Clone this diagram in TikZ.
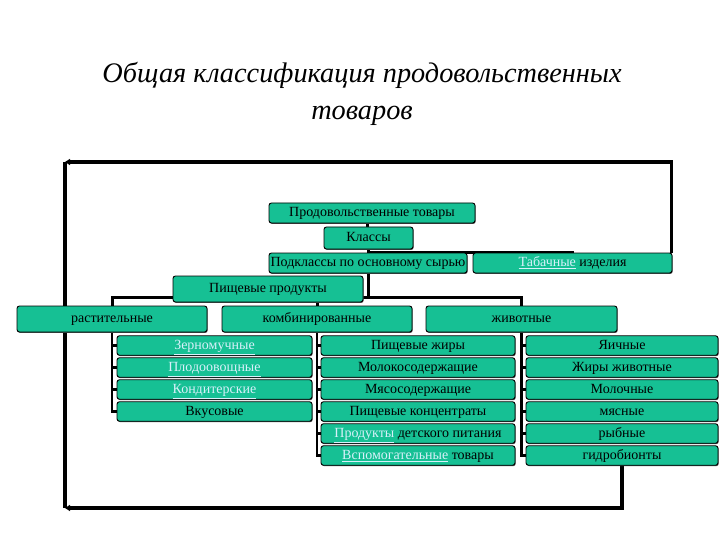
\documentclass[tikz,border=0pt]{standalone}
\usepackage{fontspec}
\setmainfont{Liberation Serif}
\usetikzlibrary{arrows.meta,shadows}
\definecolor{boxc}{RGB}{22,192,148}
\definecolor{linkc}{RGB}{215,240,250}
\newcommand\lnk[1]{\textcolor{linkc}{\underline{#1}}}
\pgfdeclarelayer{bg}
\pgfsetlayers{bg,main}
\begin{document}
\begin{tikzpicture}[x=1pt,y=-1pt,
  bx/.style={draw=black, line width=0.9pt, fill=boxc, rounded corners=2.5pt, inner sep=0pt,
    font=\fontsize{14}{16}\selectfont, text height=10pt, text depth=2.2pt,
    drop shadow={shadow xshift=0.7pt, shadow yshift=-0.9pt, fill=black!70, opacity=1}},
  conn/.style={line width=3pt},
  colline/.style={line width=2.4pt},
  loopline/.style={line width=3.2pt},
  tip/.style={-{Triangle[length=5pt,width=6pt]}},
  ttl/.style={font=\fontsize{28.3}{34}\selectfont\itshape, anchor=base}
]
\useasboundingbox (0,0) rectangle (720,540);

\node[ttl] (t1) at (362,83) {Общая классификация продовольственных};
\node[ttl] (t2) at (362,120) {товаров};

\node[bx, minimum width=206, minimum height=20] (prod) at (372,213) {Продовольственные товары};
\node[bx, minimum width=89, minimum height=22] (klassy) at (368.5,238) {Классы};
\node[bx, minimum width=198, minimum height=20] (podkl) at (368,263) {Подклассы по основному сырью};
\node[bx, minimum width=199, minimum height=20] (tab) at (572.5,263) {\lnk{Табачные} изделия};
\node[bx, minimum width=190, minimum height=26] (pishch) at (268,289) {Пищевые продукты};
\node[bx, minimum width=190, minimum height=26] (rast) at (112,319) {растительные};
\node[bx, minimum width=190, minimum height=26] (komb) at (317,319) {комбинированные};
\node[bx, minimum width=191, minimum height=26] (zhiv) at (521.5,319) {животные};

\begin{scope}[every node/.style={bx, minimum height=19.5}]
\node[minimum width=195] (a1) at (214.5,345.5) {\lnk{Зерномучные}};
\node[minimum width=195] (a2) at (214.5,367.5) {\lnk{Плодоовощные}};
\node[minimum width=195] (a3) at (214.5,389.5) {\lnk{Кондитерские}};
\node[minimum width=195] (a4) at (214.5,411.5) {Вкусовые};

\node[minimum width=194] (b1) at (418,345.5) {Пищевые жиры};
\node[minimum width=194] (b2) at (418,367.5) {Молокосодержащие};
\node[minimum width=194] (b3) at (418,389.5) {Мясосодержащие};
\node[minimum width=194] (b4) at (418,411.5) {Пищевые концентраты};
\node[minimum width=194] (b5) at (418,433.5) {\lnk{Продукты} детского питания};
\node[minimum width=194] (b6) at (418,455.5) {\lnk{Вспомогательные} товары};

\node[minimum width=192] (c1) at (622,345.5) {Яичные};
\node[minimum width=192] (c2) at (622,367.5) {Жиры животные};
\node[minimum width=192] (c3) at (622,389.5) {Молочные};
\node[minimum width=192] (c4) at (622,411.5) {мясные};
\node[minimum width=192] (c5) at (622,433.5) {рыбные};
\node[minimum width=192] (c6) at (622,455.5) {гидробионты};
\end{scope}

\coordinate (bus) at (368,297);
\coordinate (tl) at (65,162);
\coordinate (bl) at (65,508);

\begin{pgfonlayer}{bg}
\fill[white] (0,0) rectangle (720,540);
\draw[conn] ([xshift=-1pt]klassy.north) -- ([xshift=-1pt]prod.south -| klassy.north);
\draw[conn] (klassy.south) -- ([yshift=-3pt]klassy.south) -| (tab.north);
\draw[conn] (podkl.south) -- (bus);
\draw[conn] (rast.north) |- (bus) -| (zhiv.north);
\draw[conn] (komb.north) -- (komb.north |- bus);

\draw[loopline,tip] ([xshift=-1pt]tab.north east) |- (tl);
\draw[loopline] (tl) -- (rast.north -| tl);
\draw[loopline] (rast.south -| tl) -- (bl);
\draw[loopline,tip] (c6.south) |- (bl);

\draw[colline] (rast.south) |- (a4.west);
\foreach \n in {a1,a2,a3} \draw[colline] (rast.south |- \n.west) -- (\n.west);
\draw[colline] (komb.south) |- (b6.west);
\foreach \n in {b1,b2,b3,b4,b5} \draw[colline] (komb.south |- \n.west) -- (\n.west);
\draw[colline] (zhiv.south) |- (c6.west);
\foreach \n in {c1,c2,c3,c4,c5} \draw[colline] (zhiv.south |- \n.west) -- (\n.west);
\end{pgfonlayer}
\end{tikzpicture}
\end{document}
